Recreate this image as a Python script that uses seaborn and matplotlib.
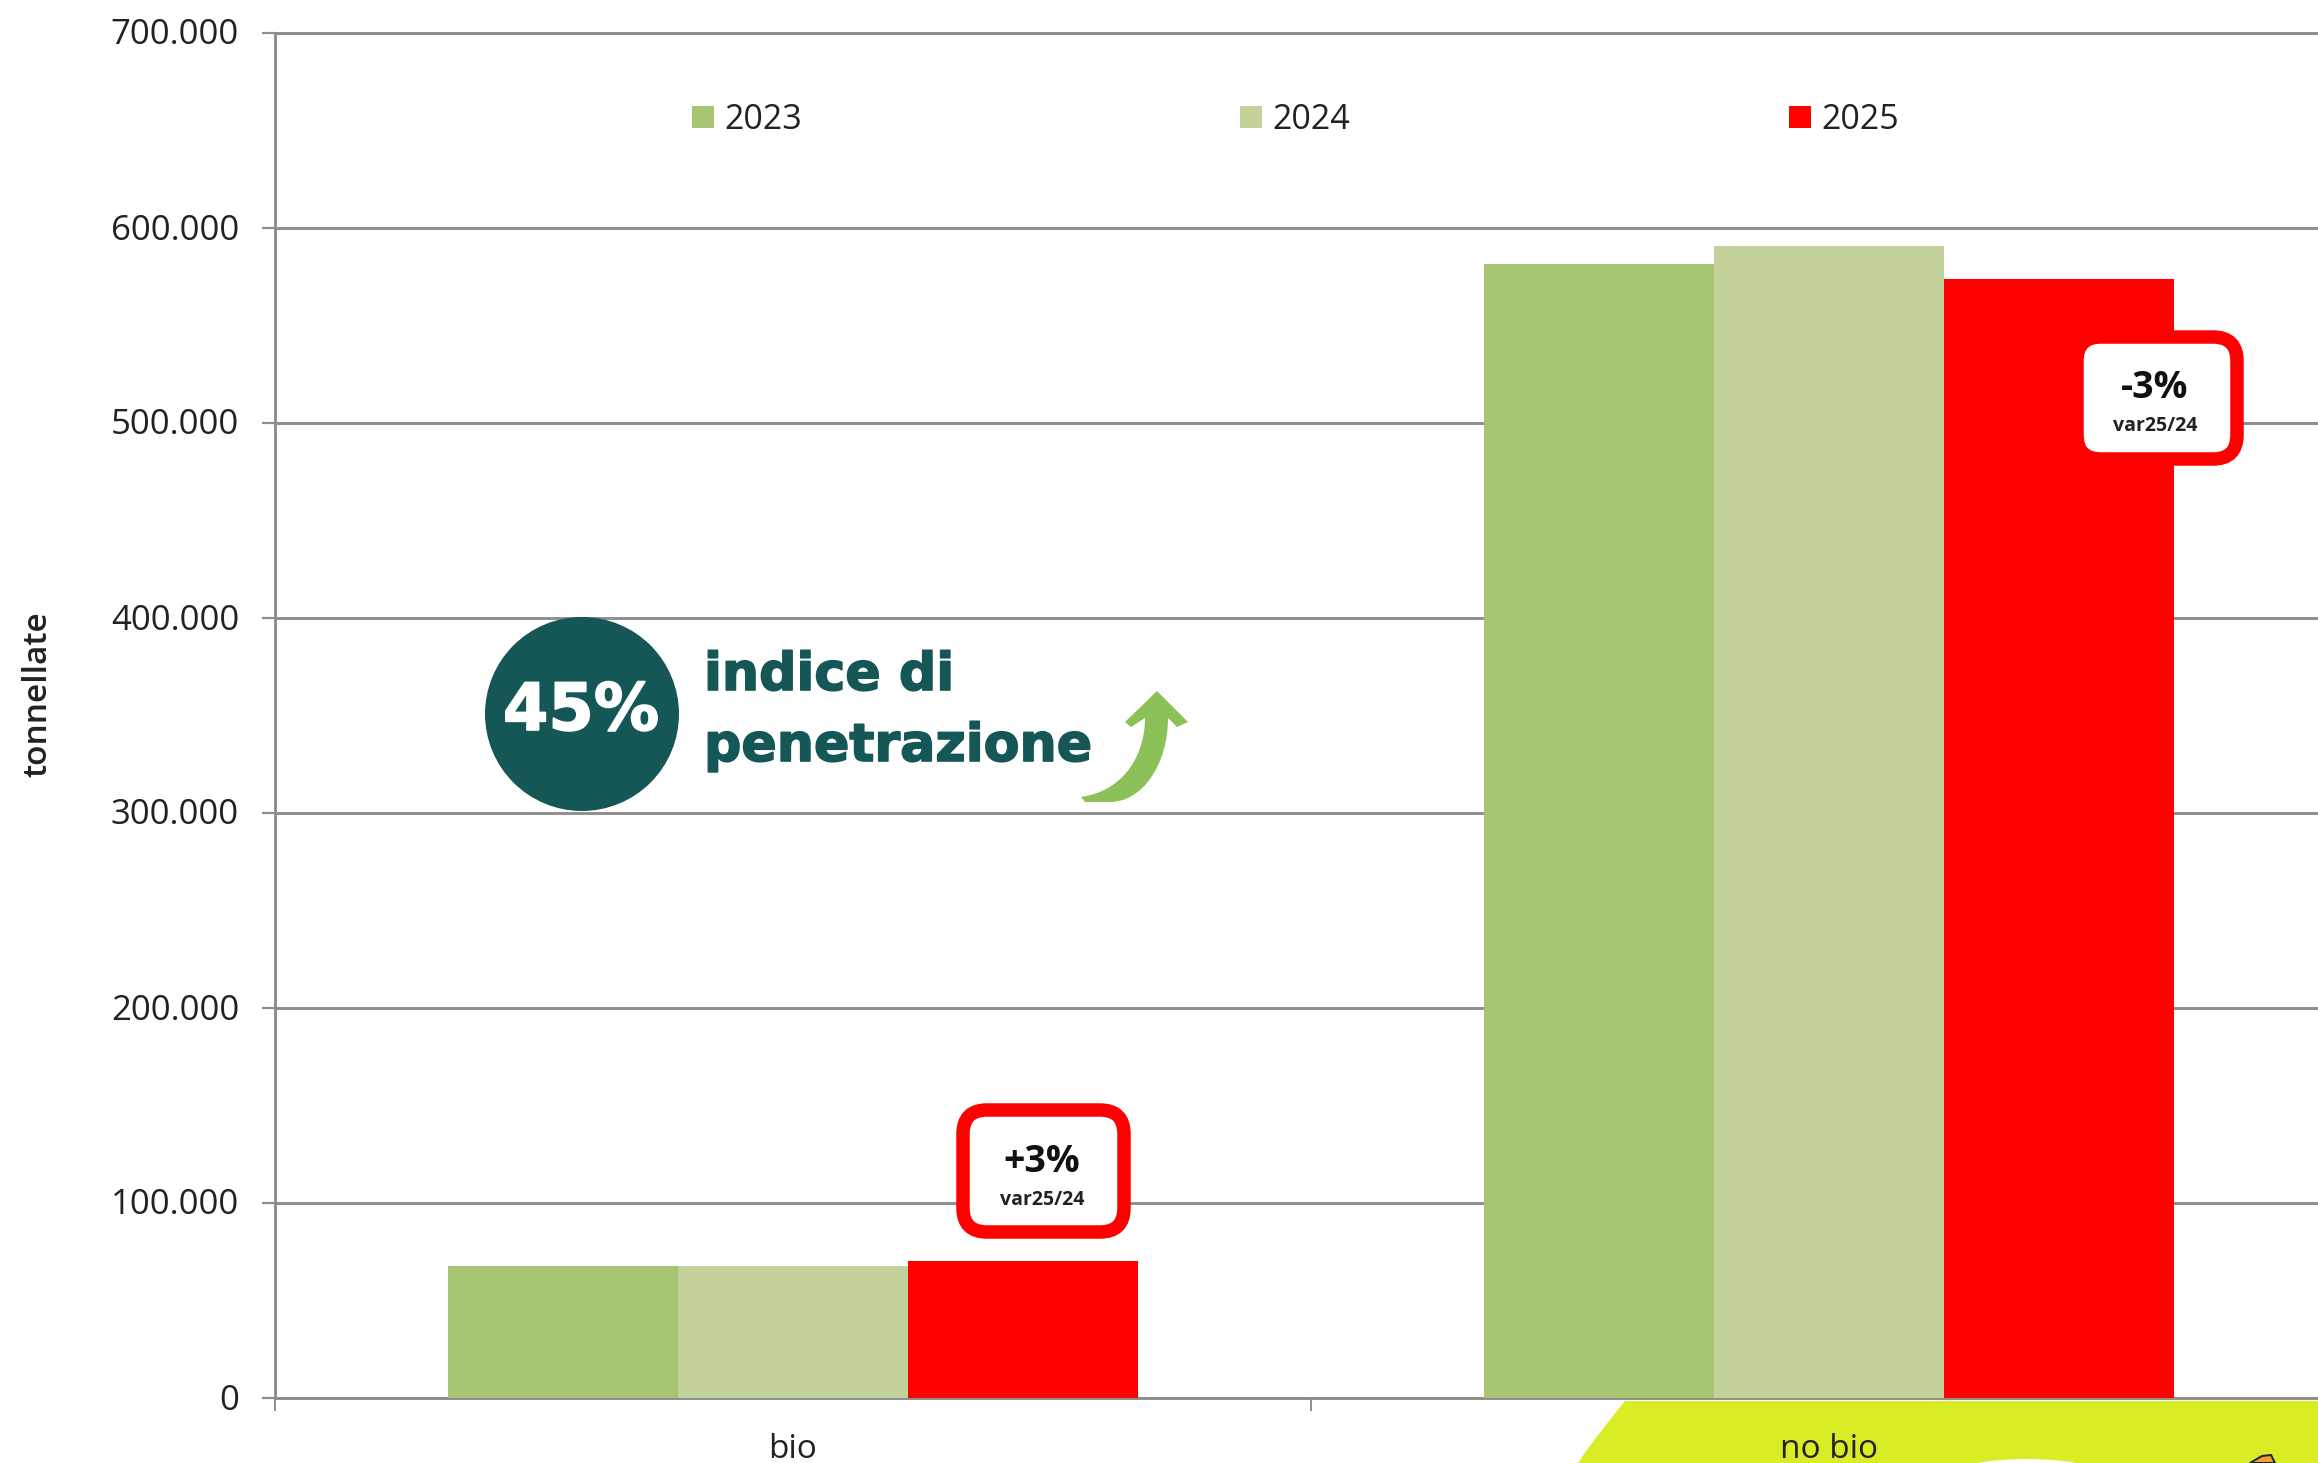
import matplotlib
matplotlib.use("Agg")
import matplotlib.pyplot as plt
import matplotlib.patheffects as pe
from matplotlib.patches import Circle, FancyBboxPatch, PathPatch
from matplotlib.path import Path
from matplotlib.transforms import Affine2D
import pandas as pd
import seaborn as sns

# Valori
tipi = ["bio", "no bio"]
anni = ["2023", "2024", "2025"]
val_2023 = [67500, 581500]
val_2024 = [67700, 590800]
val_2025 = [70200, 574000]
colori = ["#a7c472", "#c3d29b", "#ff0000"]
y_ticks = [0, 100000, 200000, 300000, 400000, 500000, 600000, 700000]
y_labels = ["0", "100.000", "200.000", "300.000", "400.000", "500.000", "600.000", "700.000"]

df = pd.DataFrame({
    "tipo": tipi * 3,
    "anno": [a for a in anni for _ in tipi],
    "tonnellate": val_2023 + val_2024 + val_2025,
})

W, H = 2318, 1463
GRIGIO = "#8e8e8e"
TESTO = "#222222"
VERDE_SCURO = "#155757"

sns.set_theme(style="white")
plt.rcParams["font.family"] = ["Open Sans", "DejaVu Sans"]

fig = plt.figure(figsize=(W / 100, H / 100), dpi=100, facecolor="white")
ax = fig.add_axes([275 / W, (H - 1398) / H, (W - 275) / W, (1398 - 33) / H])
ax.patch.set_alpha(0)

# coordinate in pixel dell'immagine, origine in alto a sinistra
px = Affine2D().scale(1, -1).translate(0, H)

sns.barplot(data=df, x="tipo", y="tonnellate", hue="anno", palette=colori,
            width=0.666, gap=0, saturation=1, linewidth=0, zorder=3, ax=ax)

ax.set_xlim(-0.5, (W - 275) / 1036 - 0.5)
ax.set_ylim(0, 700000)
ax.set_yticks(y_ticks)
ax.set_yticklabels(y_labels)
ax.set_xticks([0, 1])
ax.set_xticklabels(tipi)
ax.set_xticks([-0.5, 0.5], minor=True)
ax.set_xlabel("")
ax.set_ylabel("")
ax.grid(axis="y", color=GRIGIO, lw=2.1, zorder=1)
ax.set_axisbelow(True)
ax.tick_params(axis="y", length=9.4, width=1.6, color=GRIGIO, pad=16.5, labelsize=25, labelcolor=TESTO, left=True)
ax.tick_params(axis="x", which="major", length=0, pad=25, labelsize=24, labelcolor=TESTO)
ax.tick_params(axis="x", which="minor", length=9.4, width=1.4, color=GRIGIO, bottom=True)
for lato in ["left", "bottom", "top"]:
    ax.spines[lato].set_visible(True)
    ax.spines[lato].set_color(GRIGIO)
    ax.spines[lato].set_linewidth(2.1)
ax.spines["right"].set_visible(False)

# etichette y un po' piu' in alto
for lab in ax.get_yticklabels():
    lab.set_transform(lab.get_transform() + Affine2D().translate(0, 1.5))

sns.move_legend(ax, "center left", bbox_to_anchor=(692 / W, 1 - 120 / H), bbox_transform=fig.transFigure,
                ncol=3, frameon=False, title=None, fontsize=24.5, labelcolor=TESTO,
                handlelength=0.65, handleheight=0.65, handletextpad=0.3, columnspacing=12.88,
                borderpad=0, borderaxespad=0)

fig.text(38, 694, "tonnellate", transform=px, rotation=90, ha="center", va="center",
         fontsize=24, fontweight="semibold", color=TESTO)

# macchia gialla in basso a destra
macchia = Path([(1625, 1401), (1608, 1422), (1592, 1442), (1578, 1463), (W, 1463), (W, 1401), (1625, 1401)],
               [Path.MOVETO, Path.CURVE4, Path.CURVE4, Path.CURVE4, Path.LINETO, Path.LINETO, Path.CLOSEPOLY])
fig.add_artist(PathPatch(macchia, transform=px, fc="#d9ed26", ec="none", zorder=-1))
fig.add_artist(Circle((2027, 1774), 315, transform=px, fc="white", ec="none", zorder=-0.5))
punta = Path([(2250, 1463), (2262, 1456), (2271, 1455), (2275, 1463), (2250, 1463)],
             [Path.MOVETO, Path.LINETO, Path.LINETO, Path.LINETO, Path.CLOSEPOLY])
fig.add_artist(PathPatch(punta, transform=px, fc="#f0a030", ec="#222222", lw=1.4, zorder=-0.5))

# indice di penetrazione
fig.add_artist(Circle((582, 714), 97, transform=px, fc=VERDE_SCURO, ec="none", zorder=2))
t = fig.text(581, 730, "45%", transform=px, ha="center", va="baseline", color="white",
             fontsize=47, fontweight="bold", family=["DejaVu Sans"], zorder=4)
t.set_path_effects([pe.withStroke(linewidth=1.2, foreground="white")])
for testo, base in [("indice di", 690), ("penetrazione", 761)]:
    t = fig.text(704, base, testo, transform=px, ha="left", va="baseline", color=VERDE_SCURO,
                 fontsize=37.6, fontweight="bold", family=["DejaVu Sans"], zorder=4)
    t.set_path_effects([pe.withStroke(linewidth=1.2, foreground=VERDE_SCURO)])

freccia = Path(
    [(1157, 691), (1125, 722), (1131, 727), (1145, 718),
     (1145, 750), (1128, 790), (1081, 797),
     (1085, 802), (1110, 802),
     (1142, 802), (1168, 765), (1168, 718),
     (1177, 727), (1188, 722), (1157, 691)],
    [Path.MOVETO, Path.LINETO, Path.LINETO, Path.LINETO,
     Path.CURVE4, Path.CURVE4, Path.CURVE4,
     Path.LINETO, Path.LINETO,
     Path.CURVE4, Path.CURVE4, Path.CURVE4,
     Path.LINETO, Path.LINETO, Path.CLOSEPOLY])
fig.add_artist(PathPatch(freccia, transform=px, fc="#8cc15a", ec="none", zorder=2))


def badge(x0, y0, x1, y1, cx, testo, base1, base2):
    fig.add_artist(FancyBboxPatch((x0, y0), x1 - x0, y1 - y0, boxstyle="round,pad=0,rounding_size=24",
                                  transform=px, fc="white", ec="#ff0000", lw=9.7, zorder=2))
    fig.text(cx, base1, testo, transform=px, ha="center", va="baseline", color="#111111",
             fontsize=27, fontweight="bold", zorder=4)
    fig.text(cx, base2, "var25/24", transform=px, ha="center", va="baseline", color="#222222",
             fontsize=14, fontweight="bold", zorder=4)


badge(963, 1110, 1124, 1232, 1042, "+3%", 1172, 1205)
badge(2077, 337, 2237, 459, 2155, "-3%", 398, 431)

fig.savefig("out.png", dpi=100)
